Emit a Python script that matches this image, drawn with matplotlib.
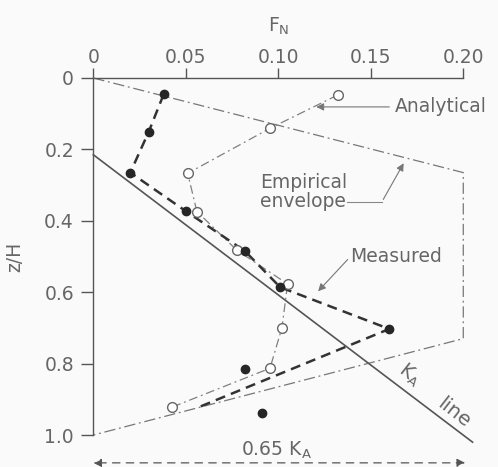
"""
Normalised wall force F_N against depth z/H: measured, analytical, envelopes.
"""
import matplotlib
matplotlib.use("Agg")
import matplotlib.pyplot as plt

# measured points (filled)
meas_f = [0.038, 0.030, 0.020, 0.050, 0.082, 0.101, 0.160, 0.082, 0.091]
meas_z = [0.046, 0.150, 0.265, 0.373, 0.485, 0.586, 0.703, 0.816, 0.937]
# measured line (heavy dashed) vertices
meas_line_f = [0.038, 0.030, 0.020, 0.050, 0.082, 0.101, 0.160, 0.057]
meas_line_z = [0.046, 0.150, 0.265, 0.373, 0.485, 0.586, 0.703, 0.922]
# analytical points (open)
anal_f = [0.132, 0.0955, 0.051, 0.056, 0.0775, 0.105, 0.102, 0.0955, 0.0425]
anal_z = [0.048, 0.141, 0.267, 0.374, 0.482, 0.577, 0.699, 0.813, 0.922]
# empirical envelope
env_f = [0.0, 0.20, 0.20, 0.0]
env_z = [0.0, 0.265, 0.73, 1.0]
# Ka line
ka_f = [0.0, 0.205]
ka_z = [0.215, 1.02]

xticks = [0, 0.05, 0.10, 0.15, 0.20]
xticklabels = ["0", "0.05", "0.10", "0.15", "0.20"]
yticks = [0, 0.2, 0.4, 0.6, 0.8, 1.0]
yticklabels = ["0", "0.2", "0.4", "0.6", "0.8", "1.0"]

txt = "#666666"
fs = 13.5

fig = plt.figure(figsize=(4.98, 4.67), dpi=100)
fig.patch.set_facecolor("#fafafa")
ax = fig.add_axes([0.1874, 0.0685, 0.7429, 0.7645])
ax.set_facecolor("#fafafa")

ax.plot(env_f, env_z, color="#777777", lw=0.9, linestyle=(0, (9, 3, 1.5, 3)), clip_on=False)
ax.plot(ka_f, ka_z, color="#555555", lw=1.2, clip_on=False)
ax.plot(anal_f, anal_z, color="#808080", lw=0.9, linestyle=(0, (7, 3, 1.5, 3)), zorder=3)
ax.plot(meas_line_f, meas_line_z, color="#333333", lw=1.8, linestyle=(0, (4, 2.5)), zorder=3)
ax.plot(anal_f, anal_z, linestyle="", marker="o", markersize=7,
        markerfacecolor="white", markeredgecolor="#666666", markeredgewidth=1.0, zorder=4)
ax.plot(meas_f, meas_z, linestyle="", marker="o", markersize=6,
        color="#262626", zorder=5)

ax.set_xlim(0, 0.20)
ax.set_ylim(1.0, 0)
ax.spines["right"].set_visible(False)
ax.spines["bottom"].set_visible(False)
for s in ("top", "left"):
    ax.spines[s].set_color("#555555")
    ax.spines[s].set_linewidth(1.0)
ax.xaxis.tick_top()
ax.xaxis.set_label_position("top")
ax.set_xticks(xticks)
ax.set_xticklabels(xticklabels)
ax.set_yticks(yticks)
ax.set_yticklabels(yticklabels)
ax.tick_params(axis="x", length=7, width=1, color="#555555", pad=1,
               labelsize=fs, labelcolor=txt)
ax.tick_params(axis="y", length=9, width=1, color="#555555", pad=5,
               labelsize=fs, labelcolor=txt)
ax.set_xlabel(r"F$_\mathregular{N}$", fontsize=fs, color=txt, labelpad=12)
ax.set_ylabel("z/H", fontsize=fs, color=txt, labelpad=14)

arrow = dict(arrowstyle="-|>", color="#777777", lw=0.8, mutation_scale=11)

ax.annotate("Analytical", xy=(0.119, 0.081), xytext=(0.163, 0.081),
            fontsize=fs, color=txt, va="center", ha="left", arrowprops=arrow)

ax.text(0.090, 0.32, "Empirical\nenvelope", fontsize=fs, color=txt,
        va="center", ha="left", linespacing=1.0)
ax.plot([0.137, 0.156], [0.347, 0.347], color="#888888", lw=0.8)
ax.annotate("", xy=(0.1685, 0.232), xytext=(0.156, 0.347), arrowprops=arrow)

ax.annotate("Measured", xy=(0.1205, 0.603), xytext=(0.139, 0.50),
            fontsize=fs, color=txt, va="center", ha="left",
            arrowprops=dict(arrowstyle="-|>", color="#777777", lw=0.8,
                            mutation_scale=11, shrinkA=0, relpos=(0, 0.5)))

ax.text(0.1712, 0.832, r"K$_\mathregular{A}$", fontsize=fs, color=txt,
        rotation=-38, rotation_mode="anchor", ha="center", va="center")
ax.text(0.195, 0.938, "line", fontsize=14.5, color=txt, clip_on=False,
        rotation=-38, rotation_mode="anchor", ha="center", va="center")

ax.annotate("", xy=(0.0, 1.078), xytext=(0.201, 1.078), annotation_clip=False,
            arrowprops=dict(arrowstyle="<|-|>", color="#555555", lw=0.9,
                            linestyle=(0, (6, 5)), mutation_scale=12,
                            shrinkA=0, shrinkB=0))
ax.text(0.099, 1.042, r"0.65 K$_\mathregular{A}$", fontsize=fs, color=txt,
        ha="center", va="center", clip_on=False)

fig.savefig("out.png", dpi=100, facecolor=fig.get_facecolor())
